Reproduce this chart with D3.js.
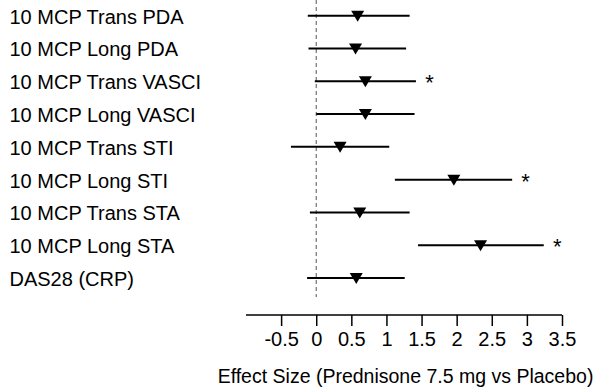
<!DOCTYPE html>
<html>
<head>
<meta charset="utf-8">
<script src="https://cdn.jsdelivr.net/npm/d3@7"></script>
<style>
  body { margin: 0; background: #fff; }
  text { font-family: "Liberation Sans", Arial, sans-serif; fill: #000; }
</style>
</head>
<body>
<svg width="602" height="392"></svg>
<script>
var labels = ["10 MCP Trans PDA", "10 MCP Long PDA", "10 MCP Trans VASCI", "10 MCP Long VASCI",
              "10 MCP Trans STI", "10 MCP Long STI", "10 MCP Trans STA", "10 MCP Long STA", "DAS28 (CRP)"];
var estimates = [0.59, 0.56, 0.70, 0.70, 0.34, 1.96, 0.62, 2.34, 0.57];
var lower = [-0.12, -0.11, -0.02, 0.00, -0.36, 1.12, -0.09, 1.45, -0.13];
var upper = [1.33, 1.28, 1.42, 1.40, 1.04, 2.79, 1.33, 3.24, 1.26];
var significant = [false, false, true, false, false, true, false, true, false];
var tickValues = [-0.5, 0, 0.5, 1, 1.5, 2, 2.5, 3, 3.5];

var fontSize = 20;
var axisY = 315;

var svg = d3.select("svg");

var x = d3.scaleLinear().domain([-1, 3.5]).range([246, 562]);
var y = d3.scalePoint().domain(labels).range([15.7, 278]);

// reference line at zero
svg.append("line")
    .attr("x1", x(0)).attr("x2", x(0))
    .attr("y1", 0).attr("y2", 297)
    .attr("stroke", "#555")
    .attr("stroke-width", 1)
    .attr("stroke-dasharray", "4 3");

// row labels
svg.append("g").selectAll("text")
    .data(labels)
    .enter()
    .append("text")
    .attr("x", 9.5)
    .attr("y", function(d) { return y(d) + 1; })
    .attr("dominant-baseline", "central")
    .style("font-size", fontSize + "px")
    .text(function(d) { return d; });

var rows = svg.append("g").selectAll("g")
    .data(labels)
    .enter()
    .append("g")
    .attr("transform", function(d) { return "translate(0," + y(d) + ")"; });

// confidence interval
rows.append("line")
    .attr("x1", function(d, i) { return x(lower[i]); })
    .attr("x2", function(d, i) { return x(upper[i]); })
    .attr("stroke", "#000")
    .attr("stroke-width", 2);

// point estimate, downward triangle
rows.append("path")
    .attr("d", function(d, i) {
        var cx = x(estimates[i]);
        return "M" + (cx - 6.5) + ",-5L" + (cx + 6.5) + ",-5L" + cx + ",6Z";
    })
    .attr("fill", "#000");

// significance stars
rows.filter(function(d, i) { return significant[i]; })
    .append("text")
    .attr("x", function(d) { return x(upper[labels.indexOf(d)]) + 13.5; })
    .attr("y", 9)
    .attr("text-anchor", "middle")
    .style("font-size", "22px")
    .text("*");

// x axis
var xAxis = d3.axisBottom(x)
    .tickValues(tickValues)
    .tickSize(11)
    .tickPadding(6)
    .tickFormat(function(d) { return String(d); });

var axisG = svg.append("g")
    .attr("transform", "translate(0," + axisY + ")")
    .call(xAxis);
axisG.select(".domain")
    .attr("d", "M" + x.range()[0] + ",0H" + x.range()[1])
    .attr("stroke-width", 1.5);
axisG.selectAll(".tick line").attr("stroke-width", 1.5);
axisG.selectAll(".tick text")
    .style("font-size", fontSize + "px")
    .style("font-family", "'Liberation Sans', Arial, sans-serif")
    .attr("fill", "#000");

// axis title
svg.append("text")
    .attr("x", 405.5)
    .attr("y", 383)
    .attr("text-anchor", "middle")
    .style("font-size", "19.5px")
    .text("Effect Size (Prednisone 7.5 mg vs Placebo)");
</script>
</body>
</html>
